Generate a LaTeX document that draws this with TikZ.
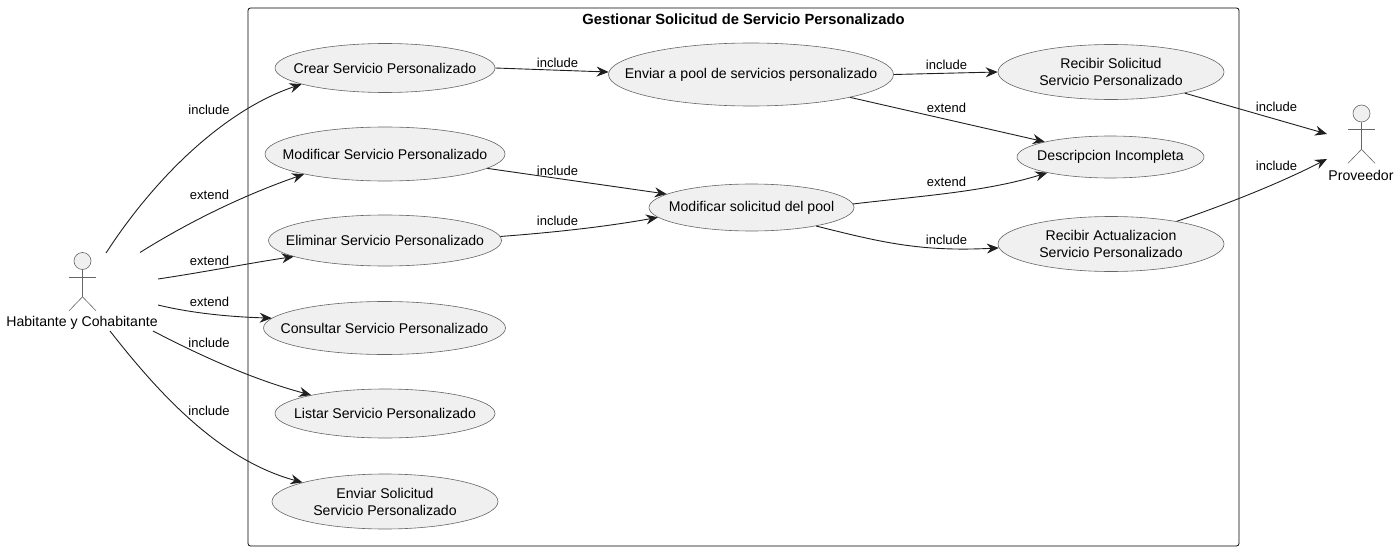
\documentclass[tikz,border=0pt]{standalone}
\usepackage{fontspec}
\usetikzlibrary{arrows.meta,shapes.geometric}
\setmainfont{Liberation Sans}
\newcommand{\oneline}[1]{\makebox[0pt]{#1}}

\begin{document}
\begin{tikzpicture}[x=1pt,y=-1pt]

\tikzset{usecase/.style={draw=black!60,fill=black!6,ellipse,line width=0.6pt,inner sep=0pt,align=center,font=\fontsize{14.1}{17}\selectfont},
  rel/.style={-{Stealth[length=12pt,width=10pt,inset=4pt]},color=black!88,line width=0.9pt},
  rellabel/.style={font=\fontsize{13}{15}\selectfont,inner sep=0pt},
  actorhead/.style={draw=black!60,fill=black!6,circle,minimum size=17pt,inner sep=0pt,line width=0.6pt},
  actorline/.style={draw=black!60,line width=0.6pt},
  actorname/.style={font=\fontsize{14.1}{17}\selectfont,inner sep=0pt}}

  \useasboundingbox (0,0) rectangle (1400,551);

  \node[draw,rounded corners=2.5pt,line width=0.8pt,minimum width=991pt,minimum height=538pt,inner sep=0pt] (box) at (743.5,277) {};
  \node[font=\bfseries\fontsize{14.75}{17}\selectfont,inner sep=0pt] (title) at (743.5,19) {Gestionar Solicitud de Servicio Personalizado};

  \node[usecase,minimum width=220pt,minimum height=49pt] (crear) at (385,68) {\oneline{Crear Servicio Personalizado}};
  \node[usecase,minimum width=240pt,minimum height=54pt] (modif) at (385,154) {\oneline{Modificar Servicio Personalizado}};
  \node[usecase,minimum width=233pt,minimum height=51pt] (elim) at (385,240.5) {\oneline{Eliminar Servicio Personalizado}};
  \node[usecase,minimum width=242pt,minimum height=53pt] (consul) at (384.5,328) {\oneline{Consultar Servicio Personalizado}};
  \node[usecase,minimum width=220pt,minimum height=49pt] (listar) at (385,413.5) {\oneline{Listar Servicio Personalizado}};
  \node[usecase,minimum width=226pt,minimum height=55pt] (enviar) at (385,501.5) {Enviar Solicitud\\Servicio Personalizado};

  \node[usecase,minimum width=285pt,minimum height=63pt] (pool) at (751,74.5) {\oneline{Enviar a pool de servicios personalizado}};
  \node[usecase,minimum width=205pt,minimum height=47pt] (modsol) at (751.5,207.5) {\oneline{Modificar solicitud del pool}};

  \node[usecase,minimum width=226pt,minimum height=55pt] (recsol) at (1111,72) {Recibir Solicitud\\Servicio Personalizado};
  \node[usecase,minimum width=187pt,minimum height=42pt] (descr) at (1110.5,157) {\oneline{Descripcion Incompleta}};
  \node[usecase,minimum width=226pt,minimum height=55pt] (recact) at (1111,244) {Recibir Actualizacion\\Servicio Personalizado};

  % actors
  \node[actorhead] (hab) at (82.5,261) {};
  \draw[actorline] (hab.south) -- ++(0,27) coordinate (habhip) -- ++(-13.5,14);
  \draw[actorline] (habhip) -- ++(13.5,14);
  \draw[actorline] (hab.south) ++(-13.5,7) -- ++(27,0);
  \node[actorname] (habname) at (82,323) {Habitante y Cohabitante};

  \node[actorhead] (prov) at (1361.5,113.5) {};
  \draw[actorline] (prov.south) -- ++(0,27) coordinate (provhip) -- ++(-13.5,14);
  \draw[actorline] (provhip) -- ++(13.5,14);
  \draw[actorline] (prov.south) ++(-13.5,7) -- ++(27,0);
  \node[actorname] (provname) at (1361,175) {Proveedor};

  \coordinate (h1) at (106,253);
  \coordinate (h2) at (140,252.5);
  \coordinate (h3) at (158,279);
  \coordinate (h4) at (158,305);
  \coordinate (h5) at (153,331);
  \coordinate (h6) at (110,331);
  \coordinate (p1) at (1327,134);
  \coordinate (p2) at (1327,159);

  \draw[rel] (h1) .. controls (160,170) and (230,108) .. (crear.191);
  \draw[rel] (h2) .. controls (195,218) and (250,193) .. (modif.194);
  \draw[rel] (h3) .. controls (205,272) and (250,263) .. (elim.190);
  \draw[rel] (h4) .. controls (195,314) and (235,317) .. (consul.175.5);
  \draw[rel] (h5) .. controls (205,358) and (255,380) .. (listar.166);
  \draw[rel] (h6) .. controls (160,395) and (220,460) .. (enviar.167.4);

  \draw[rel] (crear.-0.5) -- (pool.179);
  \draw[rel] (pool.0.6) -- (recsol.180);
  \draw[rel] (pool.-13.2) -- (descr.167);
  \draw[rel] (modif.-8) -- (modsol.171);
  \draw[rel] (elim.2.3) .. controls (560,232) and (610,226) .. (modsol.186.3);
  \draw[rel] (modsol.2.6) .. controls (920,196) and (985,192) .. (descr.194.8);
  \draw[rel] (modsol.-16.5) .. controls (880,242) and (920,252) .. (recact.182);
  \draw[rel] (recsol.-16) -- (p1);
  \draw[rel] (recact.19.2) .. controls (1230,203) and (1280,183) .. (p2);

  \node[rellabel] (l1) at (209,109.7) {include};
  \node[rellabel] (l2) at (209.5,194.7) {extend};
  \node[rellabel] (l3) at (209.5,260.7) {extend};
  \node[rellabel] (l4) at (209.5,301.5) {extend};
  \node[rellabel] (l5) at (209,343) {include};
  \node[rellabel] (l6) at (209,411) {include};
  \node[rellabel] (l7) at (557.5,62.7) {include};
  \node[rellabel] (l8) at (946.5,64.7) {include};
  \node[rellabel] (l9) at (946.5,107.7) {extend};
  \node[rellabel] (l10) at (557.5,170.5) {include};
  \node[rellabel] (l11) at (557.5,220.7) {include};
  \node[rellabel] (l12) at (946.5,181.7) {extend};
  \node[rellabel] (l13) at (946.5,239.7) {include};
  \node[rellabel] (l14) at (1276.5,106.7) {include};
  \node[rellabel] (l15) at (1276.5,165.7) {include};

\end{tikzpicture}
\end{document}
